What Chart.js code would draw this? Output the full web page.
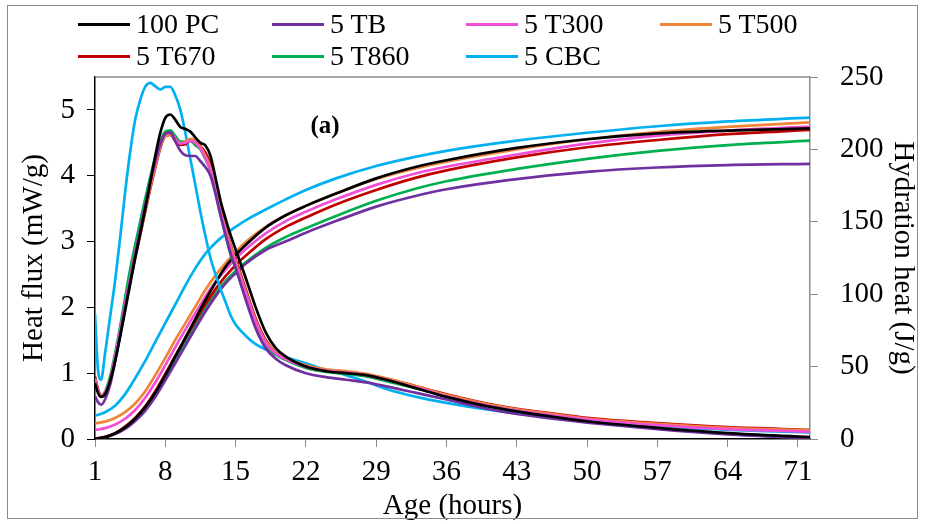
<!DOCTYPE html>
<html>
<head>
<meta charset="utf-8">
<script src="https://cdn.jsdelivr.net/npm/chart.js@4.4.0/dist/chart.umd.min.js"></script>
<style>
  html, body { margin: 0; padding: 0; background: #fff; }
  #wrap { position: relative; width: 925px; height: 524px; }
  #frame { position: absolute; left: 7px; top: 5px; width: 911px; height: 514px; border: 1.5px solid #8c8c8c; box-sizing: border-box; pointer-events: none; }
  .item { position: absolute; height: 32px; line-height: 32px; display: flex; align-items: center; font: 28px "Liberation Serif", serif; color: #000; white-space: nowrap; }
  .swatch { width: 52px; height: 3px; margin-right: 6px; }
</style>
</head>
<body>
<div id="wrap">
  <canvas id="chart" width="925" height="524"></canvas>
  <div id="legend"></div>
  <div id="frame"></div>
</div>
<script>
// series names and colours
const names = ['100 PC', '5 TB', '5 T300', '5 T500', '5 T670', '5 T860', '5 CBC'];
const colors = ['#000000', '#7030A0', '#F24FD6', '#EE8538', '#C00000', '#00B050', '#00B0F0'];

// heat flux (mW/g), left axis
const fluxHours = [1, 1.3, 1.6, 2, 2.5, 3, 3.5, 4, 4.5, 5, 5.5, 6, 6.5, 7, 7.5, 8, 8.5, 9, 9.5, 10,
  10.5, 11, 11.5, 12, 12.5, 13, 13.5, 14, 14.5, 15, 16, 17, 18, 19, 20, 22, 24, 26, 28, 30,
  33, 36, 40, 43, 47, 50, 57, 64, 72.2];
const fluxPC = [0.85, 0.7, 0.64, 0.68, 0.88, 1.18, 1.55, 1.95, 2.35, 2.75, 3.12, 3.5, 3.9, 4.3,
  4.65, 4.88, 4.93, 4.85, 4.74, 4.71, 4.67, 4.58, 4.5, 4.46, 4.3, 3.97, 3.62, 3.35, 3.1, 2.88,
  2.45, 2.0, 1.62, 1.38, 1.25, 1.1, 1.03, 1.0, 0.97, 0.9, 0.77, 0.64, 0.5, 0.42, 0.33, 0.27, 0.17, 0.09, 0.03];
const fluxTB = [0.65, 0.56, 0.52, 0.6, 0.82, 1.18, 1.58, 2.0, 2.4, 2.8, 3.18, 3.55, 3.9, 4.22,
  4.48, 4.64, 4.66, 4.52, 4.38, 4.31, 4.3, 4.3, 4.22, 4.13, 4.0, 3.72, 3.4, 3.1, 2.82, 2.6,
  2.12, 1.68, 1.38, 1.22, 1.12, 1.0, 0.94, 0.9, 0.86, 0.8, 0.7, 0.6, 0.46, 0.38, 0.3, 0.25, 0.15, 0.07, 0.01];
const fluxT300 = [0.9, 0.73, 0.65, 0.7, 0.9, 1.25, 1.64, 2.06, 2.45, 2.83, 3.18, 3.53, 3.87, 4.18,
  4.47, 4.63, 4.65, 4.56, 4.49, 4.5, 4.53, 4.5, 4.41, 4.27, 4.08, 3.78, 3.44, 3.16, 2.88, 2.66,
  2.22, 1.78, 1.46, 1.3, 1.21, 1.1, 1.04, 1.01, 0.97, 0.9, 0.78, 0.65, 0.51, 0.43, 0.35, 0.3, 0.21, 0.15, 0.11];
const fluxT500 = [0.92, 0.74, 0.66, 0.7, 0.88, 1.22, 1.6, 2.02, 2.4, 2.78, 3.13, 3.48, 3.82, 4.14,
  4.43, 4.6, 4.62, 4.54, 4.49, 4.52, 4.56, 4.53, 4.44, 4.3, 4.12, 3.82, 3.47, 3.2, 2.93, 2.7,
  2.25, 1.8, 1.48, 1.32, 1.23, 1.12, 1.06, 1.03, 0.99, 0.92, 0.8, 0.67, 0.53, 0.45, 0.37, 0.31, 0.23, 0.17, 0.13];
const fluxT670 = [0.95, 0.76, 0.66, 0.68, 0.85, 1.2, 1.58, 2.0, 2.38, 2.75, 3.1, 3.45, 3.8, 4.12,
  4.42, 4.6, 4.62, 4.53, 4.47, 4.48, 4.53, 4.52, 4.45, 4.35, 4.17, 3.85, 3.5, 3.22, 2.95, 2.73,
  2.28, 1.83, 1.5, 1.32, 1.22, 1.1, 1.04, 1.01, 0.97, 0.92, 0.8, 0.68, 0.54, 0.46, 0.38, 0.32, 0.24, 0.18, 0.14];
const fluxT860 = [0.9, 0.72, 0.66, 0.72, 0.95, 1.3, 1.7, 2.15, 2.58, 2.95, 3.3, 3.65, 3.98, 4.28,
  4.52, 4.67, 4.69, 4.6, 4.52, 4.52, 4.53, 4.46, 4.4, 4.25, 4.08, 3.75, 3.4, 3.1, 2.8, 2.6,
  2.15, 1.72, 1.42, 1.28, 1.2, 1.08, 1.02, 0.99, 0.95, 0.88, 0.77, 0.65, 0.51, 0.44, 0.36, 0.3, 0.22, 0.16, 0.12];
const fluxCBC = [1.9, 1.05, 0.9, 1.3, 1.85, 2.4, 3.05, 3.75, 4.36, 4.85, 5.15, 5.35, 5.41, 5.36,
  5.31, 5.35, 5.35, 5.22, 5.0, 4.65, 4.25, 3.85, 3.45, 3.08, 2.75, 2.5, 2.28, 2.08, 1.88, 1.74,
  1.57, 1.44, 1.36, 1.3, 1.24, 1.15, 1.05, 0.97, 0.87, 0.76, 0.64, 0.55, 0.45, 0.39, 0.32, 0.27, 0.19, 0.14, 0.1];

// cumulative hydration heat (J/g), right axis
const heatHours = [1, 2, 3, 4, 5, 6, 7, 8, 9, 10, 11, 12, 13, 14, 15, 16, 18, 20, 22, 25, 29, 33, 36, 43, 50, 57, 64, 72.2];
const heatPC = [0, 1.2, 3.8, 8, 14, 22, 32, 44, 57, 70, 83, 96, 108, 119, 127, 134, 146, 154.5, 161, 169.5, 180, 188, 192.5, 201, 207, 211, 213, 214.5];
const heatTB = [0, 1.2, 3.5, 7, 12.5, 19.5, 29, 40.5, 52.5, 64.5, 76.5, 88, 98.5, 107.5, 114.5, 121, 130.5, 136.5, 142.5, 150.5, 160.5, 168, 172.5, 179.5, 184.5, 187.5, 189.2, 190];
const heatT300 = [6.2, 7.5, 10, 14, 20, 28.5, 39, 51, 63.5, 75.5, 87, 98.5, 108.5, 117, 124.5, 131, 142, 150.5, 157, 165.5, 175.5, 183.5, 188, 196.5, 204, 209.5, 213, 215.7];
const heatT500 = [10.8, 12, 14.5, 18.5, 24.5, 33, 44, 56, 68.5, 80, 91.5, 103, 113, 121.5, 129, 136, 146.5, 154.5, 161, 169.5, 179.5, 187, 191.5, 200, 207, 212, 215.5, 218.7];
const heatT670 = [0.3, 1.5, 4, 8.5, 14.5, 22.5, 33, 45, 57.5, 69.5, 81.5, 93, 103.5, 112.5, 120, 126.5, 138, 146.5, 153, 162, 172, 180.5, 185.5, 194.5, 201.5, 206.5, 210.5, 213.4];
const heatT860 = [0, 1.3, 3.8, 8, 14, 22, 32, 43.5, 55.5, 67.5, 79, 90.5, 100.5, 109, 116, 122, 132, 139.5, 145.5, 154, 164.5, 173, 178, 186.5, 193.5, 199, 203, 206];
const heatCBC = [16, 18.5, 23, 31, 42, 54, 67, 80, 93, 106, 118, 128, 135.5, 141.5, 146.5, 151, 158.5, 165.5, 172, 180, 188.5, 195, 199, 206, 211.5, 216, 219.3, 222];

// axis ticks
const xTicks = [1, 8, 15, 22, 29, 36, 43, 50, 57, 64, 71];

const fluxSeries = [fluxPC, fluxTB, fluxT300, fluxT500, fluxT670, fluxT860, fluxCBC];
const heatSeries = [heatPC, heatTB, heatT300, heatT500, heatT670, heatT860, heatCBC];

const FONT = 'Liberation Serif';
const SIZE = 29;
const toPoints = (xs, ys) => xs.map((x, i) => ({ x: x, y: ys[i] }));

const lineStyle = (i) => ({
  borderColor: colors[i],
  backgroundColor: colors[i],
  borderWidth: 2.7,
  pointRadius: 0,
  cubicInterpolationMode: 'monotone',
  fill: false
});

const datasets = [];
fluxSeries.forEach((s, i) => datasets.push({ label: names[i], data: toPoints(fluxHours, s), yAxisID: 'y', ...lineStyle(i) }));
heatSeries.forEach((s, i) => datasets.push({ label: names[i] + ' heat', data: toPoints(heatHours, s), yAxisID: 'y1', ...lineStyle(i) }));

// legend (html, fixed columns like the original)
const legend = document.getElementById('legend');
names.forEach((n, i) => {
  const col = i % 4, row = i < 4 ? 0 : 1;
  const el = document.createElement('div');
  el.className = 'item';
  el.style.left = (78 + col * 194) + 'px';
  el.style.top = (8 + row * 32) + 'px';
  el.innerHTML = '<span class="swatch" style="background:' + colors[i] + '"></span>' + n;
  legend.appendChild(el);
});

// gray top edge of the plot + "(a)" label
const framePlugin = {
  id: 'framePlugin',
  afterDatasetsDraw(chart) {
    const { ctx, chartArea, scales } = chart;
    ctx.save();
    ctx.strokeStyle = '#8c8c8c';
    ctx.lineWidth = 1.5;
    ctx.beginPath();
    ctx.moveTo(chartArea.left, chartArea.top);
    ctx.lineTo(chartArea.right, chartArea.top);
    ctx.stroke();
    ctx.fillStyle = '#000';
    ctx.font = 'bold 25px ' + FONT;
    ctx.textAlign = 'center';
    ctx.textBaseline = 'middle';
    ctx.fillText('(a)', scales.x.getPixelForValue(23.9), scales.y.getPixelForValue(4.74));
    ctx.restore();
  }
};

new Chart(document.getElementById('chart'), {
  type: 'line',
  data: { datasets: datasets },
  plugins: [framePlugin],
  options: {
    responsive: false,
    animation: false,
    devicePixelRatio: 1,
    layout: { padding: { top: 77, left: 17, right: 3, bottom: 0 } },
    plugins: {
      legend: { display: false },
      tooltip: { enabled: false }
    },
    scales: {
      x: {
        type: 'linear',
        min: 1,
        max: 72.2,
        afterBuildTicks: (axis) => { axis.ticks = xTicks.map(v => ({ value: v })); },
        afterFit: (axis) => { axis.height = 85; },
        ticks: { color: '#000', font: { family: FONT, size: SIZE }, maxRotation: 0, padding: 8 },
        grid: { drawOnChartArea: false, drawTicks: true, tickLength: 8, color: '#8c8c8c' },
        border: { color: '#000', width: 1.5 },
        title: { display: true, text: 'Age (hours)', color: '#000', font: { family: FONT, size: SIZE }, padding: { top: 0, bottom: 0 } }
      },
      y: {
        position: 'left',
        min: 0,
        max: 5.5,
        afterFit: (axis) => { axis.width = 78; },
        ticks: {
          stepSize: 0.5,
          includeBounds: false,
          color: '#000',
          font: { family: FONT, size: SIZE },
          padding: 12,
          callback: (v) => Number.isInteger(v) ? v : ''
        },
        grid: { drawOnChartArea: false, drawTicks: true, tickLength: 8, color: '#000' },
        border: { color: '#000', width: 1.5 },
        title: { display: true, text: 'Heat flux (mW/g)', color: '#000', font: { family: FONT, size: SIZE }, padding: { top: 0, bottom: 8 } }
      },
      y1: {
        position: 'right',
        min: 0,
        max: 250,
        afterFit: (axis) => { axis.width = 112; },
        ticks: { stepSize: 50, color: '#000', font: { family: FONT, size: SIZE }, padding: 22 },
        grid: { drawOnChartArea: false, drawTicks: true, tickLength: 8, color: '#8c8c8c' },
        border: { color: '#8c8c8c', width: 1.5 },
        title: { display: true, text: 'Hydration heat (J/g)', color: '#000', font: { family: FONT, size: SIZE }, padding: { top: 2, bottom: 0 } }
      }
    }
  }
});
</script>
</body>
</html>
